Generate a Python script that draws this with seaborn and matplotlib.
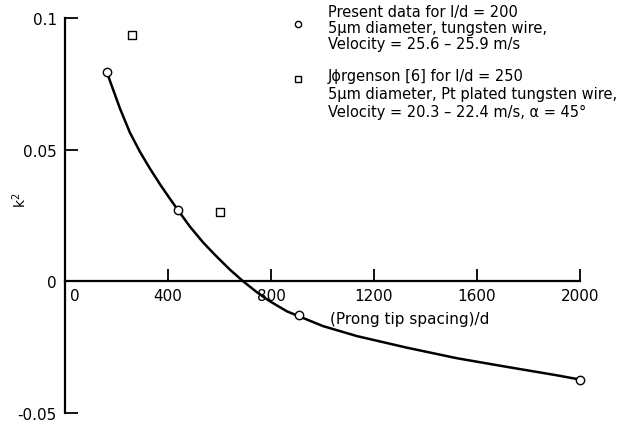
import matplotlib
matplotlib.use('Agg')
import matplotlib.pyplot as plt
import matplotlib.transforms as mtransforms
import seaborn as sns

# values
circle_x = [163, 439, 909, 2000]
circle_y = [0.0795, 0.027, -0.0129, -0.0373]
square_x = [260, 602]
square_y = [0.0935, 0.0264]
curve_x = [163, 175, 214, 252, 291, 330, 370, 408, 439, 485, 536, 590, 641, 692,
           746, 796, 862, 909, 1002, 1134, 1328, 1522, 1717, 1911, 2000]
curve_y = [0.0795, 0.0760, 0.0655, 0.0565, 0.0492, 0.0428, 0.0367, 0.0313, 0.0270,
           0.0208, 0.0148, 0.0093, 0.0044, 0.0000, -0.0042, -0.0076, -0.0114, -0.0133,
           -0.0170, -0.0208, -0.0252, -0.0292, -0.0325, -0.0357, -0.0373]
x_ticks = [0, 400, 800, 1200, 1600, 2000]
y_ticks = [-0.05, 0, 0.05, 0.1]
y_labels = ['-0.05', '0', '0.05', '0.1']

sns.set_style('ticks')
plt.rcParams['font.family'] = ['DejaVu Sans']
plt.rcParams['text.color'] = 'black'
plt.rcParams['axes.labelcolor'] = 'black'
plt.rcParams['xtick.color'] = 'black'
plt.rcParams['ytick.color'] = 'black'

fig = plt.figure(figsize=(6.36, 4.27), dpi=100)
ax = fig.add_axes([65 / 636, 13 / 427, 515 / 636, 395 / 427])

sns.lineplot(x=curve_x, y=curve_y, ax=ax, color='black', lw=1.8, sort=False)
ax.plot(circle_x, circle_y, 'o', ms=6, mfc='white', mec='black', mew=1.0, clip_on=False, zorder=5)
ax.plot(square_x, square_y, 's', ms=5.5, mfc='white', mec='black', mew=1.0, clip_on=False, zorder=5)

ax.set_xlim(0, 2000)
ax.set_ylim(-0.05, 0.1)
ax.spines['top'].set_visible(False)
ax.spines['right'].set_visible(False)
ax.spines['bottom'].set_position(('data', 0))
for s in ['left', 'bottom']:
    ax.spines[s].set_linewidth(1.6)
    ax.spines[s].set_color('black')

ax.set_xticks(x_ticks)
ax.set_xticklabels([str(v) for v in x_ticks])
ax.set_yticks(y_ticks)
ax.set_yticklabels(y_labels)
ax.tick_params(axis='both', direction='in', length=9, width=1.3, labelsize=11)
ax.tick_params(axis='x', pad=5)
ax.tick_params(axis='y', pad=6)

# nudge the x "0" label away from the spine
lbl0 = ax.get_xticklabels()[0]
lbl0.set_transform(lbl0.get_transform() + mtransforms.ScaledTranslation(7 / 72, 0, fig.dpi_scale_trans))

ax.set_xlabel('(Prong tip spacing)/d', fontsize=11)
ax.xaxis.set_label_coords(0.67, 0.258)
ax.set_ylabel('k$^2$', fontsize=10, rotation=90)
ax.yaxis.set_label_coords(-0.07, 0.54)

# legend drawn as text blocks
ax.plot([298 / 636], [1 - 25 / 427], 'o', ms=4.5, mfc='white', mec='black', mew=1.0,
        transform=fig.transFigure, clip_on=False)
ax.plot([298 / 636], [1 - 80 / 427], 's', ms=5, mfc='white', mec='black', mew=1.0,
        transform=fig.transFigure, clip_on=False)
lines = [
    ('Present data for l/d = 200', 13),
    ('5\u03bcm diameter, tungsten wire,', 29),
    ('Velocity = 25.6 \u2013 25.9 m/s', 45),
    ('J\u03d5rgenson [6] for l/d = 250', 77),
    ('5\u03bcm diameter, Pt plated tungsten wire,', 95),
    ('Velocity = 20.3 \u2013 22.4 m/s, \u03b1 = 45\u00b0', 112),
]
for txt, ypix in lines:
    fig.text(328 / 636, 1 - ypix / 427, txt, fontsize=10.5, va='center', ha='left')

fig.savefig('out.png', dpi=100)
